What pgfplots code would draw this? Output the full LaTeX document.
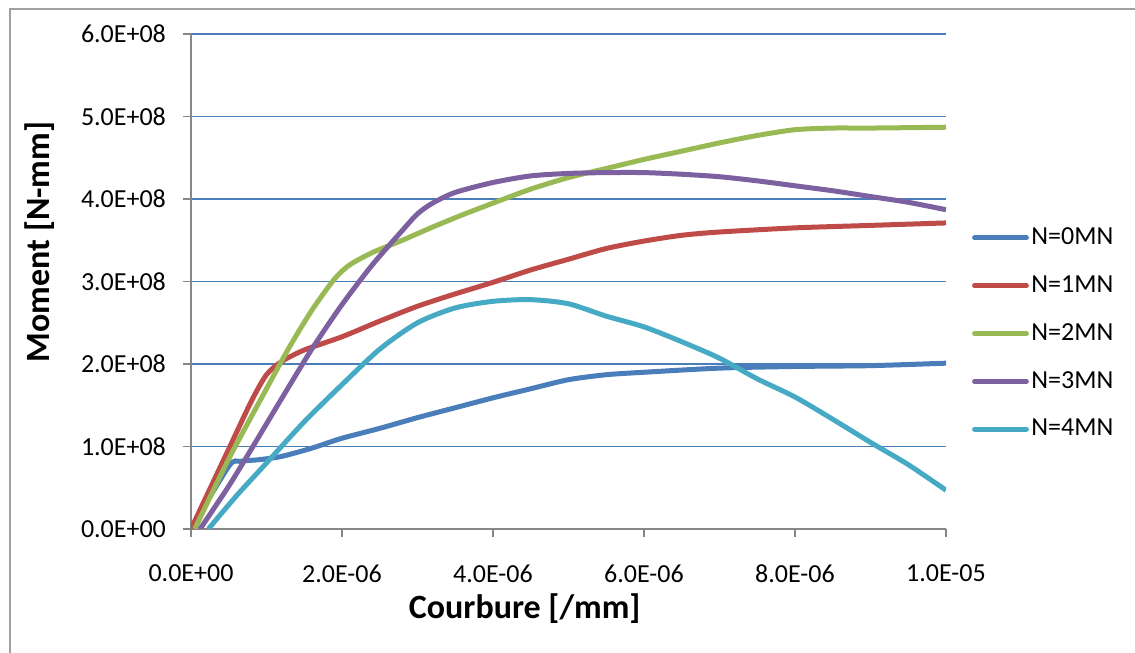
\documentclass[border=0pt]{standalone}
\usepackage{fontspec}
\setmainfont{Carlito}
\usepackage{pgfplots}
\pgfplotsset{compat=1.18}
\definecolor{c0}{HTML}{4A7EBB}
\definecolor{c1}{HTML}{BE4B48}
\definecolor{c2}{HTML}{98B954}
\definecolor{c3}{HTML}{7D60A0}
\definecolor{c4}{HTML}{46AAC5}
\definecolor{gridblue}{HTML}{4A7EBB}
\definecolor{axgray}{HTML}{868686}
\definecolor{framegray}{HTML}{A0A0A0}
\begin{document}
\begin{tikzpicture}
\path[use as bounding box] (0,0) rectangle (567.5pt,326.5pt);
\draw[framegray, line width=0.8pt] (5pt,-5pt) -- (5pt,322pt) -- (575pt,322pt);
\begin{axis}[
  at={(95.5pt,62pt)}, anchor=south west,
  scale only axis, width=377.5pt, height=247.5pt,
  xmin=0, xmax=10, ymin=0, ymax=6,
  axis x line*=bottom, axis y line*=left,
  axis line style={axgray, line width=0.75pt, -},
  xtick={0,2,4,6,8,10},
  xticklabels={0.0E+00,2.0E-06,4.0E-06,6.0E-06,8.0E-06,1.0E-05},
  ytick={0,1,2,3,4,5,6},
  yticklabels={0.0E+00,1.0E+08,2.0E+08,3.0E+08,4.0E+08,5.0E+08,6.0E+08},
  tick align=outside, major tick length=4pt,
  tick style={axgray, line width=0.75pt},
  ymajorgrids, grid style={gridblue, line width=0.6pt},
  tick label style={font=\fontsize{13}{15}\selectfont},
  yticklabel style={xshift=-5pt},
  xticklabel style={yshift=-10.5pt},
  label style={font=\fontsize{17}{20}\selectfont\bfseries},
  xlabel={Courbure [/mm]},
  ylabel={Moment [N-mm]},
  xlabel style={at={(axis description cs:0.442,-0.16)}, anchor=center},
  ylabel style={at={(axis description cs:-0.2,0.58)}, anchor=center, rotate=0},
  legend style={at={(axis description cs:1.034,0.395)}, anchor=west, draw=none, fill=none,
    font=\fontsize{13}{15}\selectfont, row sep=11.5pt, inner sep=0pt,
    nodes={inner sep=1.25pt}},
  legend cell align=left,
  legend image code/.code={\draw[#1, line width=2.4pt, line cap=round] (0pt,0pt) -- (26pt,0pt);},
  every axis plot/.append style={line width=2.5pt, smooth, tension=0.45},
]
\addplot[c0] table {
x y
0 0
0.5 0.76
0.65 0.82
0.9 0.84
1.2 0.88
1.6 0.98
2.0 1.10
2.5 1.22
3.0 1.35
3.5 1.47
4.0 1.59
4.5 1.70
5.0 1.81
5.5 1.87
6.0 1.90
7.0 1.95
8.0 1.97
9.0 1.98
10.0 2.01
};
\addlegendentry{N=0MN}
\addplot[c1] table {
x y
0 0
0.5 0.97
0.8 1.55
1.0 1.87
1.2 2.03
1.5 2.17
2.0 2.33
2.5 2.52
3.0 2.70
3.5 2.85
4.0 2.99
4.5 3.14
5.0 3.27
5.5 3.40
6.0 3.49
6.5 3.56
7.0 3.60
8.0 3.65
9.0 3.68
10.0 3.71
};
\addlegendentry{N=1MN}
\addplot[c2] table {
x y
0.05 0
0.5 0.85
1.0 1.70
1.3 2.20
1.6 2.65
1.9 3.03
2.1 3.20
2.4 3.35
2.8 3.50
3.2 3.66
3.6 3.81
4.0 3.95
4.5 4.12
5.0 4.26
5.5 4.37
6.0 4.48
6.5 4.58
7.0 4.68
7.5 4.77
8.0 4.84
8.5 4.86
9.0 4.86
10.0 4.87
};
\addlegendentry{N=2MN}
\addplot[c3] table {
x y
0.12 0
0.5 0.52
0.82 1.00
1.2 1.58
1.6 2.18
2.0 2.72
2.4 3.20
2.8 3.62
3.0 3.82
3.2 3.95
3.5 4.08
4.0 4.20
4.5 4.28
5.0 4.31
5.5 4.32
6.0 4.32
6.5 4.30
7.0 4.27
7.5 4.22
8.0 4.16
8.5 4.10
9.0 4.03
9.5 3.96
10.0 3.87
};
\addlegendentry{N=3MN}
\addplot[c4] table {
x y
0.23 0
0.6 0.40
1.0 0.80
1.5 1.30
2.0 1.75
2.5 2.18
3.0 2.50
3.5 2.68
4.0 2.76
4.5 2.78
5.0 2.73
5.5 2.58
6.0 2.45
6.5 2.27
7.0 2.07
7.5 1.82
8.0 1.60
8.5 1.33
9.0 1.05
9.5 0.78
10.0 0.47
};
\addlegendentry{N=4MN}
\end{axis}
\end{tikzpicture}
\end{document}
